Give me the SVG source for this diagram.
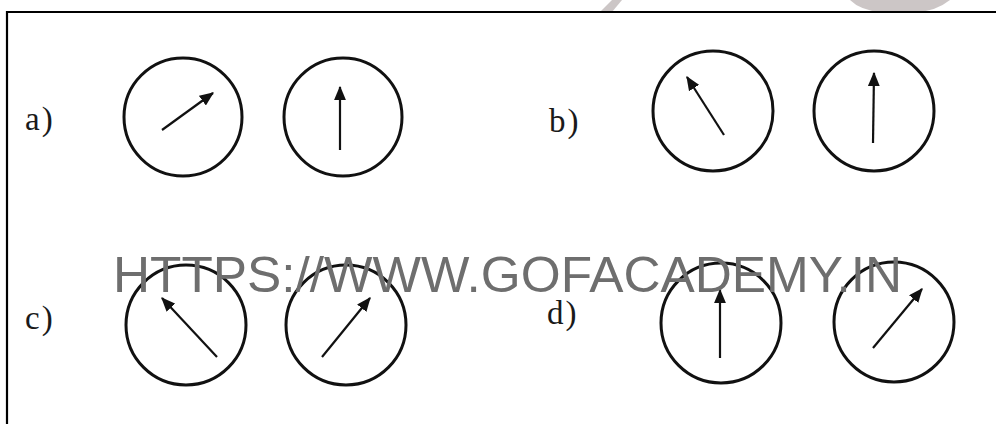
<svg xmlns="http://www.w3.org/2000/svg" width="996" height="424" viewBox="0 0 996 424">
<defs>
<marker id="ah" viewBox="0 0 12 10" refX="11" refY="5" markerWidth="6.5" markerHeight="5.5" markerUnits="strokeWidth" orient="auto">
<path d="M0,0 L12,5 L0,10 z" fill="#111"/>
</marker>
<style>
.dial{fill:none;stroke:#111;stroke-width:3}
.needle{stroke:#111;stroke-width:2.2;fill:none;marker-end:url(#ah)}
.lbl{font-family:"Liberation Serif","Times New Roman",serif;font-size:33px;fill:#1a1a1a;letter-spacing:2px}
.wm{font-family:"Liberation Sans",Arial,sans-serif;font-size:50px;fill:#6e6e6e}
</style>
</defs>
<rect width="996" height="424" fill="#ffffff"/>
<g id="smudge" fill="#b7aeae" opacity="0.7">
<path d="M600,12 L612,0 L622,0 L612,12 z"/>
<path d="M850,0 L950,0 Q935,12 915,12 L880,12 Q860,10 850,0 z"/>
</g>
<g id="frame" stroke="#000" stroke-width="2.2" fill="none">
<path d="M7,424 L7,12 L996,12"/>
</g>
<g id="labels">
<text class="lbl" x="25" y="130">a)</text>
<text class="lbl" x="549" y="132">b)</text>
<text class="lbl" x="25" y="329">c)</text>
<text class="lbl" x="547" y="324">d)</text>
</g>
<g id="a1"><circle class="dial" cx="183" cy="117" r="59"/></g>
<g id="a2"><circle class="dial" cx="343" cy="117" r="59"/></g>
<g id="b1"><circle class="dial" cx="713" cy="111" r="60"/></g>
<g id="b2"><circle class="dial" cx="874" cy="111" r="60"/></g>
<g id="c1"><circle class="dial" cx="186" cy="325" r="60"/></g>
<g id="c2"><circle class="dial" cx="346" cy="325" r="60"/></g>
<g id="d1"><circle class="dial" cx="721" cy="323" r="60"/></g>
<g id="d2"><circle class="dial" cx="894" cy="322" r="60"/></g>
<g id="connectors">
<line class="needle" x1="162" y1="130" x2="213" y2="93"/>
<line class="needle" x1="340" y1="150" x2="340" y2="87"/>
<line class="needle" x1="724" y1="135" x2="687" y2="77"/>
<line class="needle" x1="873" y1="143" x2="874" y2="73"/>
<line class="needle" x1="217" y1="357" x2="162" y2="298"/>
<line class="needle" x1="322" y1="357" x2="370" y2="298"/>
<line class="needle" x1="720" y1="358" x2="720" y2="290"/>
<line class="needle" x1="873" y1="348" x2="922" y2="289"/>
</g>
<g id="watermark">
<text class="wm" x="113" y="292" textLength="789" lengthAdjust="spacingAndGlyphs">HTTPS://WWW.GOFACADEMY.IN</text>
</g>
</svg>
